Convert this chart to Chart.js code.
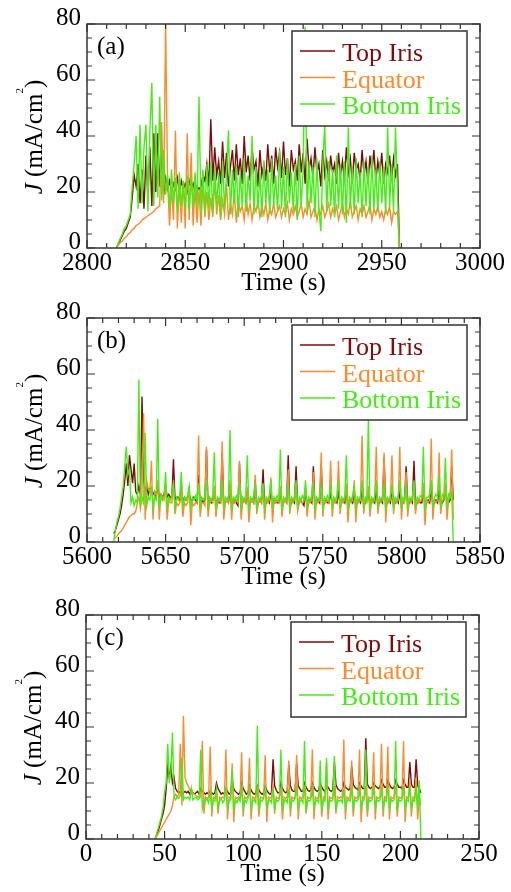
<!DOCTYPE html>
<html>
<head>
<meta charset="utf-8">
<script src="https://cdn.jsdelivr.net/npm/chart.js@4.4.0/dist/chart.umd.min.js"></script>
<style>
  html, body { margin: 0; padding: 0; background: #fff; }
  #wrap { position: relative; width: 511px; height: 892px; }
  canvas { position: absolute; left: 0; }
</style>
</head>
<body>
<div id="wrap">
  <canvas id="chartA" width="511" height="296" style="top:0px"></canvas>
  <canvas id="chartB" width="511" height="296" style="top:294px"></canvas>
  <canvas id="chartC" width="511" height="296" style="top:591px"></canvas>
</div>
<script>
const seriesNames = ["Top Iris", "Equator", "Bottom Iris"];
const seriesColors = ["#7d0c0c", "#ff8a2a", "#44ee14"];
const yTicks = [0, 20, 40, 60, 80];

// (a) one sample per second from 2815 s
const aStart = 2815;
const aTicks = [2800, 2850, 2900, 2950, 3000];
const aTop = [
  0, 1.5, 3, 4.5, 6, 7, 9, 11, 18, 26,
  22, 30, 16, 28, 14, 33, 18, 36, 15, 41,
  20, 41, 22, 35, 19, 25, 21, 24, 20, 23,
  21, 25, 20, 24, 21, 23, 20, 24, 21, 23,
  20, 22, 21, 22, 26, 24, 30, 22, 46, 24,
  36, 26, 31, 23, 38, 25, 34, 22, 29, 35,
  24, 37, 26, 32, 23, 40, 27, 33, 24, 36,
  28, 31, 22, 35, 26, 30, 24, 37, 27, 33,
  23, 36, 29, 34, 25, 38, 26, 32, 22, 35,
  28, 31, 24, 37, 27, 34, 23, 39, 28, 32,
  25, 36, 27, 30, 22, 35, 26, 31, 24, 33,
  27, 30, 23, 34, 26, 31, 24, 36, 27, 32,
  23, 34, 28, 30, 24, 35, 26, 31, 23, 33,
  27, 35, 24, 31, 26, 34, 23, 30, 27, 33,
  24, 32, 26, 30, 0
];
const aEq = [
  0, 1, 2, 2.5, 3.5, 4, 5, 5.5, 6.5, 7,
  8, 8.5, 9, 10, 10.5, 11, 11.5, 12, 12.5, 13,
  14, 14.5, 15, 45, 16, 80, 24, 8, 22, 10,
  42, 7, 23, 9, 24, 7, 41, 10, 34, 8,
  22, 9, 21, 8, 23, 11, 20, 10, 18, 11,
  25, 12, 19, 10, 17, 12, 23, 10, 16, 12,
  20, 9, 17, 13, 15, 10, 18, 12, 16, 10,
  15, 13, 17, 11, 15, 12, 16, 10, 14, 12,
  16, 11, 13, 15, 11, 14, 12, 16, 10, 14,
  12, 15, 11, 13, 16, 11, 14, 12, 17, 11,
  13, 15, 10, 14, 12, 15, 11, 13, 16, 11,
  14, 12, 15, 10, 13, 16, 11, 14, 12, 17,
  11, 13, 15, 10, 14, 12, 15, 11, 13, 16,
  10, 14, 12, 15, 11, 13, 10, 14, 12, 15,
  9, 13, 12, 13, 0
];
const aBot = [
  0, 2, 3.5, 5, 7, 8, 10, 12, 22, 30,
  40, 14, 44, 16, 36, 44, 13, 42, 59, 15,
  44, 18, 54, 17, 35, 19, 26, 14, 28, 16,
  25, 13, 27, 15, 24, 14, 26, 13, 25, 15,
  27, 14, 54, 13, 28, 12, 30, 14, 31, 12,
  29, 15, 27, 11, 31, 14, 26, 42, 12, 28,
  16, 30, 11, 27, 15, 32, 13, 26, 17, 40,
  12, 29, 14, 27, 11, 31, 16, 28, 12, 32,
  15, 26, 13, 35, 14, 29, 11, 32, 16, 27,
  13, 30, 10, 33, 15, 28, 79, 12, 31, 16,
  29, 11, 32, 14, 6, 30, 44, 13, 31, 15,
  28, 11, 33, 14, 30, 12, 31, 9, 43, 14,
  29, 12, 32, 16, 27, 11, 31, 15, 29, 12,
  33, 14, 28, 13, 31, 16, 29, 12, 43, 15,
  30, 13, 43, 20, 0
];

// (b) one sample per second from 5617 s
const bStart = 5617;
const bTicks = [5600, 5650, 5700, 5750, 5800, 5850];
const bTop = [
  3, 4, 6, 8, 10, 13, 17, 22, 28, 20,
  31, 26, 21, 28, 18, 17, 20, 17, 52, 22,
  18, 20, 17, 19, 19, 17, 18, 16, 20, 16,
  17, 16, 17, 20, 16, 17, 16, 16, 29.5, 15,
  16, 16, 15, 19, 14, 16, 15, 16, 17, 15,
  15, 16, 15, 14, 24, 13, 15, 14, 15, 33,
  13, 15, 14, 15, 18, 14, 15, 14, 14, 32,
  13, 14, 15, 14, 20, 13, 14, 15, 14, 13,
  28, 13, 14, 15, 14, 18, 13, 14, 15, 14,
  22, 12.5, 14, 15, 14, 26, 13, 14, 15, 14,
  18, 13, 14, 15, 14, 14, 18, 13, 14, 15,
  14, 31, 12.5, 14, 15, 14, 27, 13, 14, 15,
  14, 13, 18, 12.5, 14, 15, 14, 27, 13, 14,
  15, 14, 28, 12.5, 14, 15, 14, 14, 18, 13,
  14, 15, 14, 18, 13, 14, 15, 14, 19, 12.5,
  14, 15, 14, 18, 13, 14, 15, 14, 20, 13,
  14, 15, 18, 13, 14, 15, 14, 19, 13, 14,
  15, 14, 30, 12.5, 14, 15, 14, 19, 13, 14,
  15, 14, 18, 13, 14, 15, 27, 13, 14, 15,
  14, 29, 12.5, 14, 15, 14, 14, 19, 13, 14,
  15, 14, 19, 13, 14, 15, 14, 19, 13, 14,
  15, 20, 13, 14, 15, 27, 15
];
const bEq = [
  1, 1.5, 2, 3, 3.5, 4, 5, 6, 7, 8,
  9, 9.5, 10, 10, 11, 14, 16, 12, 18, 46,
  8, 22, 19, 18, 29, 8, 18, 17, 22, 8,
  17, 16, 15, 20, 8, 15, 14, 14, 22, 10,
  14, 13, 14, 18, 9, 14, 13, 14, 20, 6,
  14, 13, 14, 14, 38, 9, 14, 14, 13, 34,
  9, 14, 15, 14, 20, 9, 14, 15, 14, 36,
  8, 14, 15, 14, 22, 8, 15, 14, 15, 14,
  29, 8, 14, 15, 14, 19, 7, 14, 15, 14,
  24, 10, 14, 15, 14, 20, 8, 15, 14, 15,
  23, 7, 15, 14, 15, 14, 20, 9, 14, 15,
  14, 26, 10, 15, 14, 15, 21, 11, 14, 15,
  14, 15, 20, 9, 15, 14, 15, 25, 8, 15,
  14, 15, 32, 9, 15, 14, 15, 14, 29, 9,
  15, 14, 15, 29, 10, 15, 14, 15, 21, 7,
  15, 14, 15, 22, 7, 15, 14, 15, 38, 10,
  15, 14, 20, 9, 15, 14, 15, 34, 10, 15,
  14, 15, 32, 7, 15, 14, 15, 31, 10, 15,
  14, 15, 34, 8, 15, 14, 25, 9, 15, 14,
  15, 20, 10, 15, 14, 15, 15, 21, 6, 15,
  14, 15, 37, 8, 15, 14, 15, 32, 10, 15,
  15, 21, 8, 15, 16, 33, 8
];
const bBot = [
  0, 4, 7, 9, 12, 16, 20, 27, 34, 24,
  26, 14, 16, 13, 15, 14, 58, 13, 16, 14,
  39, 13, 16, 15, 20, 12, 16, 15, 44, 12,
  16, 15, 16.5, 25, 12, 16, 15, 16.5, 21, 12,
  16, 15, 16.5, 25, 12, 16, 15, 16.5, 20, 12,
  16, 15, 16.5, 15, 21, 12, 16, 15, 16.5, 22,
  12, 16, 15, 16.5, 32, 11, 16, 15, 16.5, 22,
  12, 16, 15, 16.5, 40, 11, 16, 15, 16.5, 15,
  21, 12, 16, 15, 16.5, 31, 11, 16, 15, 16.5,
  20, 12, 16, 15, 16.5, 21, 12, 16, 15, 16.5,
  22, 12, 16, 15, 16.5, 15, 33, 11, 16, 15,
  16.5, 21, 12, 16, 15, 16.5, 22, 12, 16, 15,
  16.5, 15, 22, 12, 16, 15, 16.5, 21, 12, 16,
  15, 16.5, 20, 12, 16, 15, 16.5, 15, 21, 12,
  16, 15, 16.5, 22, 12, 16, 15, 16.5, 31, 11,
  16, 15, 16.5, 20, 12, 16, 15, 16.5, 22, 12,
  16, 15, 44, 11, 16, 15, 16.5, 22, 12, 16,
  15, 16.5, 21, 12, 16, 15, 16.5, 20, 12, 16,
  15, 16.5, 22, 12, 16, 15, 21, 12, 16, 15,
  16.5, 22, 12, 16, 15, 16.5, 16, 34, 11, 16,
  16, 17, 22, 12, 16, 17, 16, 24, 12, 17,
  16, 30, 12, 17, 16, 18, 0
];

// (c) one sample per second from 44 s
const cStart = 44;
const cTicks = [0, 50, 100, 150, 200, 250];
const cTop = [
  0, 1.5, 3, 5, 7, 9, 12, 18, 26, 22,
  26, 20, 22, 18, 17, 16.5, 17, 16, 16.5, 17,
  16.5, 17, 16, 17.5, 16.5, 16, 16.5, 17, 16, 18,
  17, 16.5, 16, 16.5, 16, 17, 16.5, 16, 16.5, 20,
  18, 17, 16, 16.5, 16, 18, 17, 16, 16.5, 21,
  18, 17, 16.5, 16, 16.5, 20, 18, 17, 16, 16.5,
  19, 17.5, 16.5, 16, 16.5, 19, 17.5, 16.5, 16, 16.5,
  19, 17.5, 16.5, 16, 16.5, 28.5, 19, 17.5, 16.5, 16.5,
  20, 18, 17, 16.5, 17, 26.5, 19, 17.5, 17, 17,
  27, 19, 18, 17, 17, 20, 18.5, 17.5, 17, 17.5,
  20, 18.5, 17.5, 17, 17.5, 20, 18.5, 17.5, 17, 19,
  18.5, 17.5, 17, 17.5, 27.5, 19.5, 18, 17.5, 17, 17.5,
  20, 18.5, 18, 17.5, 18, 26, 19.5, 18.5, 18, 17.5,
  20, 19, 18, 18, 36, 19.5, 18.5, 18, 18.5, 20,
  19, 18.5, 18, 18.5, 21, 19.5, 18.5, 18.5, 21, 19.5,
  18.5, 18, 18.5, 21, 19.5, 18.5, 18.5, 18, 21, 19.5,
  18.5, 18.5, 27.5, 19.5, 18.5, 18.5, 28.5, 19, 18, 16.5
];
const cEq = [
  0, 1, 2, 3, 4, 5, 6, 7, 8, 9,
  10, 12, 15, 16, 15, 16, 34, 12, 44, 22,
  20, 19, 17.5, 18, 16.5, 16, 15.5, 15, 15, 15,
  35, 9, 15, 14.5, 15, 33, 8, 15, 14.5, 17,
  9, 15, 14.5, 15, 14.5, 32, 7, 15, 14.5, 27,
  6, 15, 14.5, 15, 14.5, 31, 8, 15, 14.5, 15,
  29, 7, 15, 14.5, 15, 18, 8, 15, 14.5, 15,
  30, 6, 15, 14.5, 15, 20, 9, 15, 14.5, 15,
  18, 7, 15, 14.5, 15, 28, 8, 15, 14.5, 15,
  30, 7, 15, 14.5, 15, 18, 9, 15, 14.5, 15,
  32, 7, 15, 14.5, 15, 18, 8, 15, 14.5, 27,
  7, 15, 14.5, 15, 18, 9, 15, 14.5, 15, 14.5,
  35.5, 7, 15, 14.5, 15, 28, 8, 15, 14.5, 15,
  32, 6, 15, 14.5, 19, 8, 15, 14.5, 15, 31,
  7, 15, 14.5, 15, 34, 8, 15, 14.5, 33, 7,
  15, 14.5, 15, 19, 8, 15, 14.5, 15, 35, 6,
  15, 14.5, 21, 8, 15, 14.5, 22, 7, 15, 12
];
const cBot = [
  0, 2, 4, 6, 8, 11, 17, 20, 34, 20,
  24, 38, 15, 14, 15, 14.5, 15.5, 29, 14, 15,
  14.5, 15, 14, 18, 14, 14.5, 15, 14, 14.5, 32,
  11, 14, 13.5, 14.5, 13, 17, 11, 14, 13.5, 18,
  11, 13.5, 14.5, 13, 14, 18, 11, 13.5, 14, 25,
  10, 14, 13, 14.5, 13.5, 18, 11, 14, 13, 14.5,
  18, 11, 13.5, 14, 13, 40.5, 10, 14, 13.5, 14.5,
  18, 11, 13.5, 14, 13, 18, 11, 14, 13.5, 14,
  32, 10, 13.5, 14, 13, 18, 11, 14, 13.5, 14.5,
  18, 11, 13.5, 14, 13, 35, 10, 14, 13.5, 14,
  18, 11, 13.5, 14, 13, 28, 10, 14, 13.5, 29,
  10, 14, 13.5, 14, 29.6, 10, 14, 13.5, 14, 13,
  18, 11, 13.5, 14, 13.5, 18, 11, 14, 13.5, 14,
  18, 11, 13.5, 14, 32, 10, 14, 13.5, 14, 19,
  11, 14, 13.5, 14, 18, 11, 14, 13.5, 19, 11,
  14, 13.5, 14, 35, 10, 14, 13.5, 14, 19, 11,
  14, 13.5, 19, 11, 14, 13.5, 18, 11, 21, 0
];

const FONT = "'Liberation Serif', 'Times New Roman', serif";

// frame, inward ticks, panel letter, legend box, y title
const panelDeco = {
  id: "panelDeco",
  afterDatasetsDraw(chart, args, opts) {
    const ctx = chart.ctx, a = chart.chartArea;
    const x = chart.scales.x, y = chart.scales.y;
    ctx.save();
    ctx.strokeStyle = "#333";
    ctx.lineWidth = 1.5;
    ctx.strokeRect(a.left, a.top, a.right - a.left, a.bottom - a.top);
    ctx.lineWidth = 1.2;
    ctx.beginPath();
    for (let v = x.min; v <= x.max; v += 10) {
      const px = x.getPixelForValue(v);
      const len = v % 50 === 0 ? 8 : 5;
      ctx.moveTo(px, a.bottom); ctx.lineTo(px, a.bottom - len);
      ctx.moveTo(px, a.top); ctx.lineTo(px, a.top + len);
    }
    for (let v = 0; v <= 80; v += 5) {
      const py = y.getPixelForValue(v);
      const len = v % 20 === 0 ? 8 : 5;
      ctx.moveTo(a.left, py); ctx.lineTo(a.left + len, py);
      ctx.moveTo(a.right, py); ctx.lineTo(a.right - len, py);
    }
    ctx.stroke();

    ctx.fillStyle = "#000";
    ctx.textAlign = "left";
    ctx.textBaseline = "alphabetic";
    ctx.font = "25px " + FONT;
    ctx.fillText(opts.label, a.left + 10, a.top + 30);

    const bx = a.right - 188, by = a.top + 7, bw = 175, bh = 95;
    ctx.fillStyle = "#fff";
    ctx.fillRect(bx, by, bw, bh);
    ctx.strokeStyle = "#333";
    ctx.lineWidth = 1.5;
    ctx.strokeRect(bx, by, bw, bh);
    ctx.font = "26px " + FONT;
    seriesNames.forEach((name, i) => {
      const base = by + 30 + i * 26.5;
      ctx.strokeStyle = seriesColors[i];
      ctx.lineWidth = 1.5;
      ctx.beginPath();
      ctx.moveTo(bx + 8, base - 10);
      ctx.lineTo(bx + 43, base - 10);
      ctx.stroke();
      ctx.fillStyle = seriesColors[i];
      ctx.fillText(name, bx + 50, base);
    });
    ctx.restore();
  },
  afterDraw(chart) {
    const ctx = chart.ctx, a = chart.chartArea;
    const parts = [
      ["J", "italic 25px " + FONT, 0],
      [" (mA/cm", "25px " + FONT, 0],
      ["2", "11px " + FONT, -19],
      [")", "25px " + FONT, 0]
    ];
    ctx.save();
    ctx.translate(a.left - 45, (a.top + a.bottom) / 2 + 1);
    ctx.rotate(-Math.PI / 2);
    ctx.fillStyle = "#000";
    ctx.textAlign = "left";
    ctx.textBaseline = "alphabetic";
    let total = 0;
    parts.forEach(p => { ctx.font = p[1]; total += ctx.measureText(p[0]).width; });
    let xx = -total / 2;
    parts.forEach(p => {
      ctx.font = p[1];
      ctx.fillText(p[0], xx, p[2]);
      xx += ctx.measureText(p[0]).width;
    });
    ctx.restore();
  }
};

function makeChart(id, start, top, eq, bot, xTicks, label, left) {
  const pts = arr => arr.map((v, i) => ({ x: start + i, y: v }));
  const vals = [top, eq, bot];
  new Chart(document.getElementById(id), {
    type: "line",
    data: {
      datasets: vals.map((arr, i) => ({
        label: seriesNames[i],
        data: pts(arr),
        borderColor: seriesColors[i],
        order: 2 - i
      }))
    },
    options: {
      responsive: false,
      animation: false,
      devicePixelRatio: 1,
      layout: { padding: { left: 0, right: 511 - left - 393, top: 24, bottom: 0 } },
      elements: { point: { radius: 0 }, line: { borderWidth: 1.4, tension: 0 } },
      plugins: { legend: { display: false }, tooltip: { enabled: false }, panelDeco: { label } },
      scales: {
        x: {
          type: "linear",
          min: xTicks[0],
          max: xTicks[xTicks.length - 1],
          afterBuildTicks: s => { s.ticks = xTicks.map(v => ({ value: v })); },
          afterFit: s => { s.height = 48; },
          grid: { display: false, drawTicks: false },
          border: { display: false },
          ticks: {
            padding: 0, color: "#000", maxRotation: 0, autoSkip: false,
            font: { family: FONT, size: 25 },
            callback: v => String(v)
          },
          title: {
            display: true, text: "Time (s)", color: "#000", padding: 0,
            font: { family: FONT, size: 25, lineHeight: 1 }
          }
        },
        y: {
          min: 0,
          max: 80,
          afterBuildTicks: s => { s.ticks = yTicks.map(v => ({ value: v })); },
          afterFit: s => { s.width = left; },
          grid: { display: false, drawTicks: false },
          border: { display: false },
          ticks: {
            padding: 6, labelOffset: -6, color: "#000",
            font: { family: FONT, size: 25 },
            callback: v => String(v)
          }
        }
      }
    },
    plugins: [panelDeco]
  });
}

makeChart("chartA", aStart, aTop, aEq, aBot, aTicks, "(a)", 87);
makeChart("chartB", bStart, bTop, bEq, bBot, bTicks, "(b)", 87);
makeChart("chartC", cStart, cTop, cEq, cBot, cTicks, "(c)", 86);
</script>
</body>
</html>
